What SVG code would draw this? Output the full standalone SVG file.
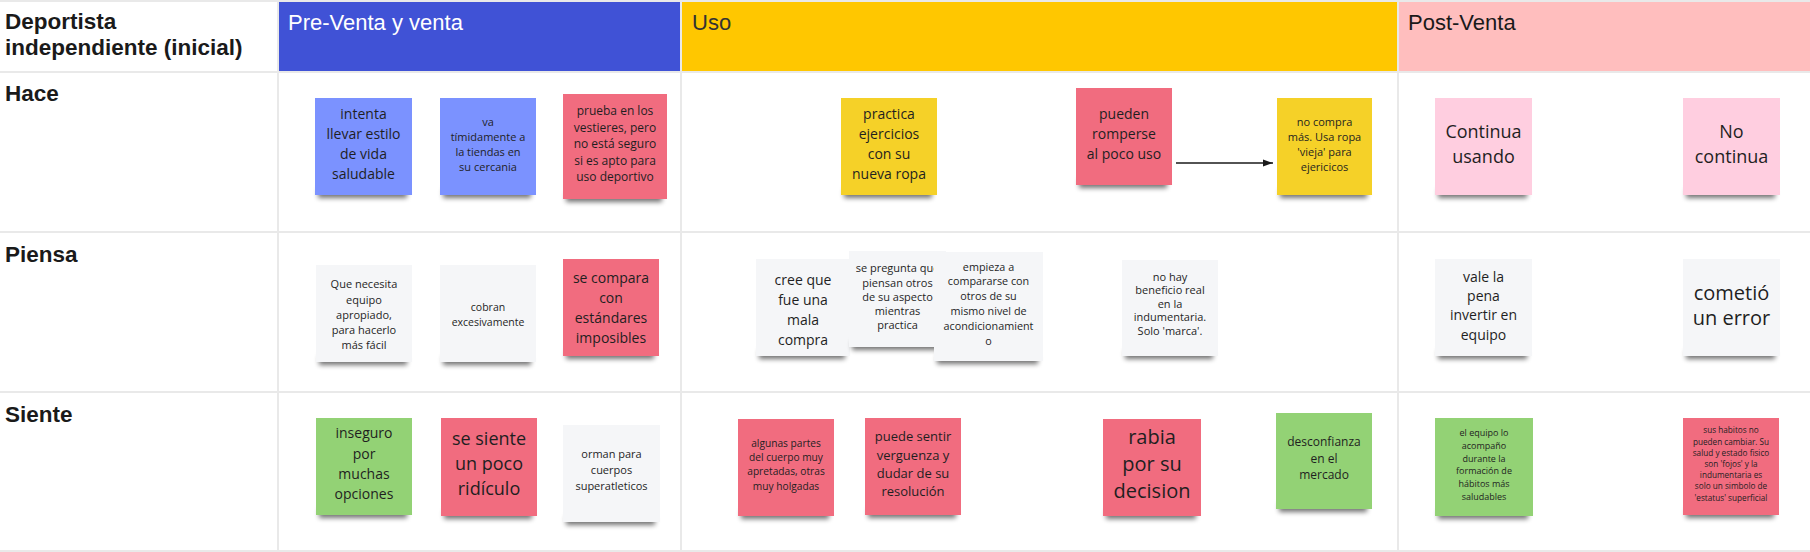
<svg xmlns="http://www.w3.org/2000/svg" width="1810" height="552" viewBox="0 0 1810 552">
<defs>
<filter id="blur" x="-20%" y="-100%" width="140%" height="300%"><feGaussianBlur stdDeviation="2.5"/></filter>
<marker id="arr" viewBox="0 0 10 10" refX="10" refY="5" markerWidth="10" markerHeight="10" markerUnits="userSpaceOnUse" orient="auto"><path d="M0,1.5 L10,5 L0,8.5 z" fill="#1a1a1a"/></marker>
<style>
.grid{stroke:#e9e9e9;stroke-width:2;fill:none}
.hdr{font-family:"Liberation Sans",Arial,sans-serif;font-size:22px}
.lbl{font-family:"Liberation Sans",Arial,sans-serif;font-size:22.5px;font-weight:bold;fill:#1a1a1a}
.sh{fill:#000;opacity:0.55;filter:url(#blur)}
.t{font-family:"Open Sans","Noto Sans",sans-serif;fill:#1f1f1f;text-anchor:middle}
.blue{fill:#7b92ff}.red{fill:#f16c7f}.yel{fill:#f5d128}.grn{fill:#93d275}.pnk{fill:#ffcee0}.gry{fill:#f5f6f8}
.conn{stroke:#1a1a1a;stroke-width:1.5;fill:none}
</style>
</defs>
<rect x="0" y="0" width="1810" height="552" fill="#ffffff"/>
<g id="headers">
<rect x="278" y="0" width="403" height="72" fill="#4052d6"/>
<rect x="681" y="0" width="717" height="72" fill="#ffc700"/>
<rect x="1398" y="0" width="412" height="72" fill="#ffbebe"/>
<text class="hdr" x="288" y="30" fill="#ffffff" font-size="21.3">Pre-Venta y venta</text>
<text class="hdr" x="692" y="30" fill="#333333">Uso</text>
<text class="hdr" x="1408" y="30" fill="#1a1a1a" font-size="22.6">Post-Venta</text>
</g>
<g id="gridlines">
<line class="grid" x1="0" y1="1" x2="1810" y2="1"/>
<line class="grid" x1="0" y1="72" x2="1810" y2="72"/>
<line class="grid" x1="0" y1="232" x2="1810" y2="232"/>
<line class="grid" x1="0" y1="392" x2="1810" y2="392"/>
<line class="grid" x1="0" y1="551" x2="1810" y2="551"/>
<line class="grid" x1="278" y1="0" x2="278" y2="552"/>
<line class="grid" x1="681" y1="0" x2="681" y2="552"/>
<line class="grid" x1="1398" y1="0" x2="1398" y2="552"/>
</g>
<g id="labels">
<text class="lbl" x="5" y="29">Deportista</text>
<text class="lbl" x="5" y="55">independiente (inicial)</text>
<text class="lbl" x="5" y="101">Hace</text>
<text class="lbl" x="5" y="262">Piensa</text>
<text class="lbl" x="5" y="422">Siente</text>
</g>

<g id="n1"><rect class="sh" x="318" y="189" width="89" height="9"/><rect class="blue" x="315" y="98" width="97" height="97"/>
<text class="t" font-size="14" x="363.5" y="119"><tspan x="363.5">intenta</tspan><tspan x="363.5" dy="20">llevar estilo</tspan><tspan x="363.5" dy="20">de vida</tspan><tspan x="363.5" dy="20">saludable</tspan></text></g>

<g id="n2"><rect class="sh" x="443" y="189" width="88" height="9"/><rect class="blue" x="440" y="98" width="96" height="97"/>
<text class="t" font-size="11" x="488" y="125.6"><tspan x="488">va</tspan><tspan x="488" dy="15">tímidamente a</tspan><tspan x="488" dy="15">la tiendas en</tspan><tspan x="488" dy="15">su cercania</tspan></text></g>

<g id="n3"><rect class="sh" x="566" y="193" width="96" height="9"/><rect class="red" x="563" y="94" width="104" height="105"/>
<text class="t" font-size="12" x="615" y="115"><tspan x="615">prueba en los</tspan><tspan x="615" dy="16.5">vestieres, pero</tspan><tspan x="615" dy="16.5">no está seguro</tspan><tspan x="615" dy="16.5">si es apto para</tspan><tspan x="615" dy="16.5">uso deportivo</tspan></text></g>

<g id="n4"><rect class="sh" x="844" y="189" width="88" height="9"/><rect class="yel" x="841" y="98" width="96" height="97"/>
<text class="t" font-size="14" x="889" y="119"><tspan x="889">practica</tspan><tspan x="889" dy="20">ejercicios</tspan><tspan x="889" dy="20">con su</tspan><tspan x="889" dy="20">nueva ropa</tspan></text></g>

<g id="n5"><rect class="sh" x="1079" y="179" width="88" height="9"/><rect class="red" x="1076" y="88" width="96" height="97"/>
<text class="t" font-size="14" x="1124" y="119"><tspan x="1124">pueden</tspan><tspan x="1124" dy="20">romperse</tspan><tspan x="1124" dy="20">al poco uso</tspan></text></g>

<g id="n7"><rect class="sh" x="1280" y="189" width="87" height="9"/><rect class="yel" x="1277" y="98" width="95" height="97"/>
<text class="t" font-size="11" x="1324.5" y="125.6"><tspan x="1324.5">no compra</tspan><tspan x="1324.5" dy="15">más. Usa ropa</tspan><tspan x="1324.5" dy="15">'vieja' para</tspan><tspan x="1324.5" dy="15">ejericicos</tspan></text></g>

<g id="n8"><rect class="sh" x="1438" y="189" width="89" height="9"/><rect class="pnk" x="1435" y="98" width="97" height="97"/>
<text class="t" font-size="18" x="1483.5" y="137.6"><tspan x="1483.5">Continua</tspan><tspan x="1483.5" dy="25">usando</tspan></text></g>

<g id="n9"><rect class="sh" x="1686" y="189" width="89" height="9"/><rect class="pnk" x="1683" y="98" width="97" height="97"/>
<text class="t" font-size="18" x="1731.5" y="137.6"><tspan x="1731.5">No</tspan><tspan x="1731.5" dy="25">continua</tspan></text></g>

<g id="n10"><rect class="sh" x="319" y="356" width="88" height="9"/><rect class="gry" x="316" y="265" width="96" height="97"/>
<text class="t" font-size="11" x="364" y="288.3"><tspan x="364">Que necesita</tspan><tspan x="364" dy="15.2">equipo</tspan><tspan x="364" dy="15.2">apropiado,</tspan><tspan x="364" dy="15.2">para hacerlo</tspan><tspan x="364" dy="15.2">más fácil</tspan></text></g>

<g id="n11"><rect class="sh" x="443" y="356" width="88" height="9"/><rect class="gry" x="440" y="265" width="96" height="97"/>
<text class="t" font-size="10.5" x="488" y="310.5"><tspan x="488">cobran</tspan><tspan x="488" dy="15.7">excesivamente</tspan></text></g>

<g id="n12"><rect class="sh" x="566" y="350" width="88" height="9"/><rect class="red" x="563" y="259" width="96" height="97"/>
<text class="t" font-size="14" x="611" y="283.3"><tspan x="611">se compara</tspan><tspan x="611" dy="20">con</tspan><tspan x="611" dy="20">estándares</tspan><tspan x="611" dy="20">imposibles</tspan></text></g>

<g id="n13"><rect class="sh" x="759" y="350" width="86" height="9"/><rect class="gry" x="756" y="259" width="94" height="97"/>
<text class="t" font-size="14" x="803" y="285"><tspan x="803">cree que</tspan><tspan x="803" dy="20">fue una</tspan><tspan x="803" dy="20">mala</tspan><tspan x="803" dy="20">compra</tspan></text></g>

<g id="n14"><rect class="sh" x="852" y="341" width="89" height="9"/><rect class="gry" x="849" y="251" width="97" height="96"/>
<text class="t" font-size="11" x="897.5" y="272.3"><tspan x="897.5">se pregunta que</tspan><tspan x="897.5" dy="14.2">piensan otros</tspan><tspan x="897.5" dy="14.2">de su aspecto</tspan><tspan x="897.5" dy="14.2">mientras</tspan><tspan x="897.5" dy="14.2">practica</tspan></text></g>

<g id="n15"><rect class="sh" x="937" y="355" width="101" height="9"/><rect class="gry" x="934" y="252" width="109" height="109"/>
<text class="t" font-size="10.8" x="988.5" y="270.6"><tspan x="988.5">empieza a</tspan><tspan x="988.5" dy="14.8">compararse con</tspan><tspan x="988.5" dy="14.8">otros de su</tspan><tspan x="988.5" dy="14.8">mismo nivel de</tspan><tspan x="988.5" dy="14.8">acondicionamient</tspan><tspan x="988.5" dy="14.8">o</tspan></text></g>

<g id="n16"><rect class="sh" x="1125" y="350" width="88" height="9"/><rect class="gry" x="1122" y="260" width="96" height="96"/>
<text class="t" font-size="11" x="1170" y="280.6"><tspan x="1170">no hay</tspan><tspan x="1170" dy="13.6">beneficio real</tspan><tspan x="1170" dy="13.6">en la</tspan><tspan x="1170" dy="13.6">indumentaria.</tspan><tspan x="1170" dy="13.6">Solo 'marca'.</tspan></text></g>

<g id="n17"><rect class="sh" x="1438" y="350" width="89" height="9"/><rect class="gry" x="1435" y="259" width="97" height="97"/>
<text class="t" font-size="14" x="1483.5" y="281.6"><tspan x="1483.5">vale la</tspan><tspan x="1483.5" dy="19.3">pena</tspan><tspan x="1483.5" dy="19.3">invertir en</tspan><tspan x="1483.5" dy="19.3">equipo</tspan></text></g>

<g id="n18"><rect class="sh" x="1686" y="350" width="89" height="9"/><rect class="gry" x="1683" y="259" width="97" height="97"/>
<text class="t" font-size="20" x="1731.5" y="299.6"><tspan x="1731.5">cometió</tspan><tspan x="1731.5" dy="25">un error</tspan></text></g>

<g id="n19"><rect class="sh" x="319" y="509" width="88" height="9"/><rect class="grn" x="316" y="418" width="96" height="97"/>
<text class="t" font-size="14" x="364" y="438.3"><tspan x="364">inseguro</tspan><tspan x="364" dy="20.3">por</tspan><tspan x="364" dy="20.3">muchas</tspan><tspan x="364" dy="20.3">opciones</tspan></text></g>

<g id="n20"><rect class="sh" x="444" y="510" width="88" height="9"/><rect class="red" x="441" y="418" width="96" height="98"/>
<text class="t" font-size="18" x="489" y="444.6"><tspan x="489">se siente</tspan><tspan x="489" dy="25.3">un poco</tspan><tspan x="489" dy="25.3">ridículo</tspan></text></g>

<g id="n21"><rect class="sh" x="566" y="516" width="89" height="9"/><rect class="gry" x="563" y="425" width="97" height="97"/>
<text class="t" font-size="11" x="611.5" y="458.3"><tspan x="611.5">orman para</tspan><tspan x="611.5" dy="15.6">cuerpos</tspan><tspan x="611.5" dy="15.6">superatleticos</tspan></text></g>

<g id="n22"><rect class="sh" x="741" y="510" width="88" height="9"/><rect class="red" x="738" y="419" width="96" height="97"/>
<text class="t" font-size="10.2" x="786" y="447"><tspan x="786">algunas partes</tspan><tspan x="786" dy="14.2">del cuerpo muy</tspan><tspan x="786" dy="14.2">apretadas, otras</tspan><tspan x="786" dy="14.2">muy holgadas</tspan></text></g>

<g id="n23"><rect class="sh" x="868" y="509" width="88" height="9"/><rect class="red" x="865" y="418" width="96" height="97"/>
<text class="t" font-size="13" x="913" y="441.3"><tspan x="913">puede sentir</tspan><tspan x="913" dy="18.3">verguenza y</tspan><tspan x="913" dy="18.3">dudar de su</tspan><tspan x="913" dy="18.3">resolución</tspan></text></g>

<g id="n24"><rect class="sh" x="1106" y="510" width="90" height="9"/><rect class="red" x="1103" y="419" width="98" height="97"/>
<text class="t" font-size="20" x="1152" y="444.3"><tspan x="1152">rabia</tspan><tspan x="1152" dy="26.7">por su</tspan><tspan x="1152" dy="26.7">decision</tspan></text></g>

<g id="n25"><rect class="sh" x="1279" y="503" width="88" height="9"/><rect class="grn" x="1276" y="413" width="96" height="96"/>
<text class="t" font-size="12" x="1324" y="446"><tspan x="1324">desconfianza</tspan><tspan x="1324" dy="16.7">en el</tspan><tspan x="1324" dy="16.7">mercado</tspan></text></g>

<g id="n26"><rect class="sh" x="1438" y="510" width="90" height="9"/><rect class="grn" x="1435" y="418" width="98" height="98"/>
<text class="t" font-size="9" x="1484" y="436.3"><tspan x="1484">el equipo lo</tspan><tspan x="1484" dy="12.7">acompaño</tspan><tspan x="1484" dy="12.7">durante la</tspan><tspan x="1484" dy="12.7">formación de</tspan><tspan x="1484" dy="12.7">hábitos más</tspan><tspan x="1484" dy="12.7">saludables</tspan></text></g>

<g id="n27"><rect class="sh" x="1686" y="509" width="88" height="9"/><rect class="red" x="1683" y="418" width="96" height="97"/>
<text class="t" font-size="8.2" x="1731" y="433.4"><tspan x="1731">sus habitos no</tspan><tspan x="1731" dy="11.2">pueden cambiar. Su</tspan><tspan x="1731" dy="11.2">salud y estado fisico</tspan><tspan x="1731" dy="11.2">son 'fojos' y la</tspan><tspan x="1731" dy="11.2">indumentaria es</tspan><tspan x="1731" dy="11.2">solo un simbolo de</tspan><tspan x="1731" dy="11.2">'estatus' superficial</tspan></text></g>

<g id="connectors">
<line class="conn" x1="1176" y1="163" x2="1273" y2="163" marker-end="url(#arr)"/>
</g>
</svg>
